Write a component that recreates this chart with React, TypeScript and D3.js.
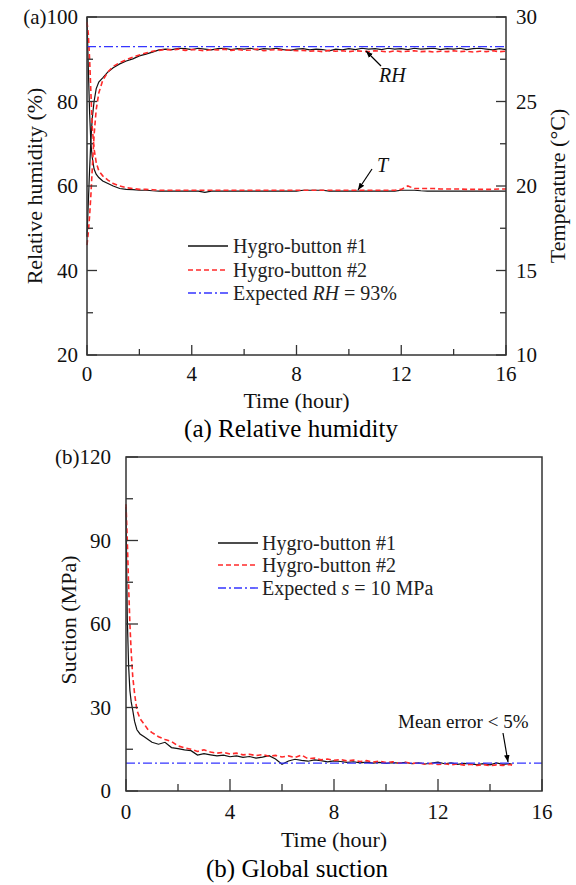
import React from "react";
import * as d3 from "d3";

// ---------- Panel (a) data ----------
const tA = [0, 0.05, 0.1, 0.15, 0.2, 0.27, 0.35, 0.45, 0.6, 0.8,
  1, 1.25, 1.5, 1.75, 2, 2.25, 2.5, 2.75, 3,
  3.25, 3.5, 3.75, 4, 4.25, 4.5, 4.75, 5, 5.25, 5.5,
  5.75, 6, 6.25, 6.5, 6.75, 7, 7.25, 7.5, 7.75, 8,
  8.25, 8.5, 8.75, 9, 9.25, 9.5, 9.75, 10, 10.25, 10.5,
  10.75, 11, 11.25, 11.5, 11.75, 12, 12.25, 12.5, 12.75, 13,
  13.25, 13.5, 13.75, 14, 14.25, 14.5, 14.75, 15, 15.25, 15.5,
  15.75, 16];

const rh1 = [48, 56, 64, 71, 76, 80, 83, 84.6, 85.6, 87,
  88, 88.9, 89.6, 90.1, 90.8, 91.2, 91.7, 92.2, 92.4,
  92.3, 92.6, 92.5, 92.3, 92.6, 92.4, 92.2, 92.5, 92.6, 92.3,
  92.5, 92.4, 92.6, 92.2, 92.5, 92.4, 92.6, 92.3, 92.1, 92.4,
  92.5, 92.2, 92.4, 92.3, 92.0, 92.4, 92.2, 92.5, 92.3, 92.6,
  92.4, 92.5, 92.3, 92.6, 92.4, 92.5, 92.3, 92.6, 92.4, 92.5,
  92.6, 92.3, 92.5, 92.4, 92.6, 92.3, 92.5, 92.6, 92.4, 92.2,
  92.5, 92.3];

const rh2 = [46, 49, 53, 58, 64, 72, 78, 82, 85, 87,
  88.3, 89.2, 89.9, 90.5, 91.0, 91.5, 91.9, 92.1, 92.3,
  92.2, 92.4, 92.1, 92.3, 92.2, 92.0, 92.3, 92.2, 92.4, 92.1,
  92.3, 92.1, 92.2, 92.4, 92.0, 92.2, 92.3, 92.1, 92.2, 92.0,
  92.1, 91.9, 92.0, 91.8, 92.1, 91.9, 92.0, 91.8, 92.0, 91.9,
  91.8, 92.0, 91.9, 91.7, 92.0, 91.8, 91.9, 92.0, 91.8, 91.9,
  91.7, 91.9, 91.8, 92.0, 91.8, 91.9, 91.7, 91.9, 91.8, 92.0,
  91.8, 91.9];

const temp1 = [30, 27, 24.3, 22.5, 21.7, 21.0, 20.7, 20.5, 20.3, 20.15,
  20.0, 19.85, 19.8, 19.78, 19.76, 19.75, 19.72, 19.7, 19.7,
  19.7, 19.7, 19.7, 19.7, 19.7, 19.62, 19.7, 19.7, 19.7, 19.7,
  19.7, 19.7, 19.7, 19.7, 19.7, 19.7, 19.7, 19.7, 19.7, 19.7,
  19.75, 19.75, 19.75, 19.75, 19.7, 19.7, 19.7, 19.7, 19.7, 19.7,
  19.7, 19.7, 19.7, 19.7, 19.7, 19.75, 19.75, 19.75, 19.72, 19.7,
  19.7, 19.7, 19.7, 19.7, 19.7, 19.7, 19.7, 19.7, 19.7, 19.7,
  19.7, 19.7];

const temp2 = [29.7, 29.0, 27.5, 25.5, 23.5, 22.2, 21.4, 20.9, 20.6, 20.35,
  20.15, 20.0, 19.9, 19.85, 19.8, 19.8, 19.78, 19.75, 19.75,
  19.75, 19.75, 19.75, 19.75, 19.75, 19.75, 19.75, 19.75, 19.75, 19.75,
  19.75, 19.75, 19.75, 19.75, 19.75, 19.75, 19.75, 19.75, 19.75, 19.75,
  19.75, 19.75, 19.75, 19.75, 19.75, 19.75, 19.75, 19.75, 19.75, 19.75,
  19.75, 19.75, 19.75, 19.75, 19.75, 19.8, 20.0, 19.85, 19.85, 19.85,
  19.85, 19.82, 19.82, 19.82, 19.82, 19.8, 19.8, 19.8, 19.8, 19.8,
  19.82, 19.82];

const expectedRH = 93;

// ---------- Panel (b) data ----------
const tB = [0, 0.05, 0.1, 0.15, 0.2, 0.26, 0.33, 0.42, 0.54, 0.7, 0.85, 1,
  1.25, 1.5, 1.75, 2, 2.25, 2.5, 2.75, 3, 3.25, 3.5,
  3.75, 4, 4.25, 4.5, 4.75, 5, 5.25, 5.5, 5.75, 6,
  6.25, 6.5, 6.75, 7, 7.25, 7.5, 7.75, 8, 8.25, 8.5,
  8.75, 9, 9.25, 9.5, 9.75, 10, 10.25, 10.5, 10.75, 11,
  11.25, 11.5, 11.75, 12, 12.25, 12.5, 12.75, 13, 13.25, 13.5,
  13.75, 14, 14.25, 14.5, 14.75, 14.85];

const suc1 = [102, 62, 45, 36, 32, 29, 25, 22, 20.5, 19.5, 18.5, 17.5,
  16.8, 17.5, 15.6, 15.2, 14.8, 14.5, 12.9, 13.4, 13.0, 12.6,
  12.9, 12.3, 12.6, 12.1, 12.4, 11.8, 12.2, 12.7, 11.5, 9.6,
  10.8, 11.4, 11.0, 10.7, 11.2, 10.9, 10.5, 10.8, 10.6, 10.3,
  10.5, 10.1, 10.4, 10.0, 10.3, 9.9, 10.2, 10.0, 10.3, 9.8,
  10.1, 9.7, 10.0, 10.4, 9.8, 10.1, 9.6, 9.9, 9.7, 9.5,
  9.8, 9.4, 10.1, 9.6, 9.8, 9.6];

const suc2 = [103, 90, 74, 60, 50, 41, 35, 29, 26, 24, 22, 21,
  19.5, 18.5, 17.8, 16.2, 15.5, 15.0, 14.2, 14.8, 14.0, 13.6,
  13.9, 13.3, 13.6, 13.0, 13.2, 12.7, 13.1, 12.5, 12.8, 12.2,
  12.6, 12.0, 12.9, 11.6, 11.8, 11.2, 11.5, 11.0, 11.3, 10.8,
  11.1, 10.6, 10.9, 10.4, 10.7, 10.2, 10.5, 10.0, 10.3, 9.9,
  10.1, 9.6, 9.9, 9.5, 9.8, 9.4, 9.7, 9.3, 9.6, 9.2,
  9.5, 9.1, 9.4, 9.2, 9.5, 9.3];

const expectedS = 10;

// ---------- Ticks ----------
const xMajor = [0, 4, 8, 12, 16];
const xMinor = [2, 6, 10, 14];
const rhMajor = [20, 40, 60, 80, 100];
const rhMinor = [30, 50, 70, 90];
const tMajor = [10, 15, 20, 25, 30];
const tMinor = [12.5, 17.5, 22.5, 27.5];
const sMajor = [0, 30, 60, 90, 120];
const sMinor = [15, 45, 75, 105];

const FONT = "'Liberation Serif', 'Times New Roman', serif";
const AX = "#333";
const RED = "#ff2a2a";
const BLUE = "#3535ff";

export default function App() {
  const xA = d3.scaleLinear().domain([0, 16]).range([87, 506]);
  const yA = d3.scaleLinear().domain([20, 100]).range([355, 17]);
  const yT = d3.scaleLinear().domain([10, 30]).range([355, 17]);
  const xB = d3.scaleLinear().domain([0, 16]).range([126, 542]);
  const yB = d3.scaleLinear().domain([0, 120]).range([791, 457]);

  const lineOf = (xs: number[], ys: number[], xs_: any, ys_: any) =>
    d3.line<number>().x((_, i) => xs_(xs[i])).y((d) => ys_(d))(ys) || "";

  const [ax0, ax1] = xA.range();
  const [ay0, ay1] = yA.range();
  const [bx0, bx1] = xB.range();
  const [by0, by1] = yB.range();

  const tickFs = 21;

  return (
    <svg width={576} height={885} style={{ position: "absolute", left: 0, top: 0, background: "#fff" }}
      fontFamily={FONT}>
      <defs>
        <marker id="arr" viewBox="0 0 10 10" refX="10" refY="5" markerWidth="7" markerHeight="7"
          orient="auto" markerUnits="userSpaceOnUse">
          <path d="M0,1 L10,5 L0,9 Z" fill="#000" />
        </marker>
      </defs>

      {/* ================= Panel (a) ================= */}
      <g>
        <path d={lineOf(tA, rh1, xA, yA)} fill="none" stroke="#111" strokeWidth={1.2} />
        <path d={lineOf(tA, temp1, xA, yT)} fill="none" stroke="#111" strokeWidth={1.2} />
        <path d={lineOf(tA, rh2, xA, yA)} fill="none" stroke={RED} strokeWidth={1.6} strokeDasharray="5,3" />
        <path d={lineOf(tA, temp2, xA, yT)} fill="none" stroke={RED} strokeWidth={1.6} strokeDasharray="5,3" />
        <line x1={ax0} x2={ax1} y1={yA(expectedRH)} y2={yA(expectedRH)} stroke={BLUE} strokeWidth={1.4}
          strokeDasharray="9,3,2,3" />

        <rect x={ax0} y={ay1} width={ax1 - ax0} height={ay0 - ay1} fill="none" stroke={AX} strokeWidth={1.5} />
        {xMajor.map((v) => (
          <g key={"xa" + v}>
            <line x1={xA(v)} x2={xA(v)} y1={ay0} y2={ay0 - 10} stroke={AX} strokeWidth={1.3} />
            <text x={xA(v)} y={381} fontSize={tickFs} textAnchor="middle" fill="#111">{v}</text>
          </g>
        ))}
        {xMinor.map((v) => (
          <line key={"xam" + v} x1={xA(v)} x2={xA(v)} y1={ay0} y2={ay0 - 6} stroke={AX} strokeWidth={1.3} />
        ))}
        {rhMajor.map((v) => (
          <g key={"ya" + v}>
            <line x1={ax0} x2={ax0 + 10} y1={yA(v)} y2={yA(v)} stroke={AX} strokeWidth={1.3} />
            <text x={ax0 - 9} y={yA(v)} dy="0.35em" fontSize={tickFs} textAnchor="end" fill="#111">
              {v === 100 ? "(a)100" : v}
            </text>
          </g>
        ))}
        {rhMinor.map((v) => (
          <line key={"yam" + v} x1={ax0} x2={ax0 + 6} y1={yA(v)} y2={yA(v)} stroke={AX} strokeWidth={1.3} />
        ))}
        {tMajor.map((v) => (
          <g key={"yt" + v}>
            <line x1={ax1} x2={ax1 - 10} y1={yT(v)} y2={yT(v)} stroke={AX} strokeWidth={1.3} />
            <text x={ax1 + 10} y={yT(v)} dy="0.35em" fontSize={tickFs} textAnchor="start" fill="#111">{v}</text>
          </g>
        ))}
        {tMinor.map((v) => (
          <line key={"ytm" + v} x1={ax1} x2={ax1 - 6} y1={yT(v)} y2={yT(v)} stroke={AX} strokeWidth={1.3} />
        ))}

        <text transform={`translate(42,${(ay0 + ay1) / 2}) rotate(-90)`} fontSize={22} textAnchor="middle" fill="#111">
          Relative humidity (%)
        </text>
        <text transform={`translate(565,${(ay0 + ay1) / 2}) rotate(-90)`} fontSize={22} textAnchor="middle" fill="#111">
          Temperature (°C)
        </text>
        <text x={(ax0 + ax1) / 2} y={408} fontSize={22} textAnchor="middle" fill="#111">Time (hour)</text>
        <text x={291} y={437} fontSize={25} textAnchor="middle" fill="#000">(a) Relative humidity</text>

        {/* annotations */}
        <text x={379} y={82} fontSize={20} fontStyle="italic" fill="#111">RH</text>
        <line x1={381} y1={66} x2={366} y2={51} stroke="#000" strokeWidth={1.2} markerEnd="url(#arr)" />
        <text x={377} y={172} fontSize={20} fontStyle="italic" fill="#111">T</text>
        <line x1={372} y1={169} x2={358} y2={190} stroke="#000" strokeWidth={1.2} markerEnd="url(#arr)" />

        {/* legend */}
        <line x1={188} x2={228} y1={246} y2={246} stroke="#111" strokeWidth={1.3} />
        <text x={233} y={246} dy="0.35em" fontSize={20} fill="#222">Hygro-button #1</text>
        <line x1={188} x2={228} y1={270} y2={270} stroke={RED} strokeWidth={1.6} strokeDasharray="5,3" />
        <text x={233} y={270} dy="0.35em" fontSize={20} fill="#222">Hygro-button #2</text>
        <line x1={188} x2={228} y1={293} y2={293} stroke={BLUE} strokeWidth={1.4} strokeDasharray="8,3,2,3" />
        <text x={233} y={293} dy="0.35em" fontSize={20} fill="#222">
          Expected <tspan fontStyle="italic">RH</tspan> = {expectedRH}%
        </text>
      </g>

      {/* ================= Panel (b) ================= */}
      <g>
        <path d={lineOf(tB, suc1, xB, yB)} fill="none" stroke="#111" strokeWidth={1.2} />
        <path d={lineOf(tB, suc2, xB, yB)} fill="none" stroke={RED} strokeWidth={1.6} strokeDasharray="5,3" />
        <line x1={bx0} x2={bx1} y1={yB(expectedS)} y2={yB(expectedS)} stroke={BLUE} strokeWidth={1.4}
          strokeDasharray="9,3,2,3" />

        <rect x={bx0} y={by1} width={bx1 - bx0} height={by0 - by1} fill="none" stroke={AX} strokeWidth={1.5} />
        {xMajor.map((v) => (
          <g key={"xb" + v}>
            <line x1={xB(v)} x2={xB(v)} y1={by0} y2={by0 - 12} stroke={AX} strokeWidth={1.3} />
            <text x={xB(v)} y={819} fontSize={tickFs} textAnchor="middle" fill="#111">{v}</text>
          </g>
        ))}
        {xMinor.map((v) => (
          <line key={"xbm" + v} x1={xB(v)} x2={xB(v)} y1={by0} y2={by0 - 7} stroke={AX} strokeWidth={1.3} />
        ))}
        {sMajor.map((v) => (
          <g key={"yb" + v}>
            <line x1={bx0} x2={bx0 + 12} y1={yB(v)} y2={yB(v)} stroke={AX} strokeWidth={1.3} />
            <text x={bx0 - 15} y={yB(v)} dy="0.35em" fontSize={tickFs} textAnchor="end" fill="#111">
              {v === 120 ? "(b)120" : v}
            </text>
          </g>
        ))}
        {sMinor.map((v) => (
          <line key={"ybm" + v} x1={bx0} x2={bx0 + 7} y1={yB(v)} y2={yB(v)} stroke={AX} strokeWidth={1.3} />
        ))}

        <text transform={`translate(76,${(by0 + by1) / 2 - 4}) rotate(-90)`} fontSize={22} textAnchor="middle" fill="#111">
          Suction (MPa)
        </text>
        <text x={(bx0 + bx1) / 2} y={847} fontSize={22} textAnchor="middle" fill="#111">Time (hour)</text>
        <text x={297} y={877} fontSize={25} textAnchor="middle" fill="#000">(b) Global suction</text>

        <text x={398} y={728} fontSize={19} fill="#111">Mean error &lt; 5%</text>
        <line x1={503} y1={733} x2={508} y2={762} stroke="#000" strokeWidth={1.2} markerEnd="url(#arr)" />

        <line x1={218} x2={258} y1={543} y2={543} stroke="#111" strokeWidth={1.3} />
        <text x={262} y={543} dy="0.35em" fontSize={20} fill="#222">Hygro-button #1</text>
        <line x1={218} x2={258} y1={565} y2={565} stroke={RED} strokeWidth={1.6} strokeDasharray="5,3" />
        <text x={262} y={565} dy="0.35em" fontSize={20} fill="#222">Hygro-button #2</text>
        <line x1={218} x2={258} y1={588} y2={588} stroke={BLUE} strokeWidth={1.4} strokeDasharray="8,3,2,3" />
        <text x={262} y={588} dy="0.35em" fontSize={20} fill="#222">
          Expected <tspan fontStyle="italic">s</tspan> = {expectedS} MPa
        </text>
      </g>
    </svg>
  );
}
